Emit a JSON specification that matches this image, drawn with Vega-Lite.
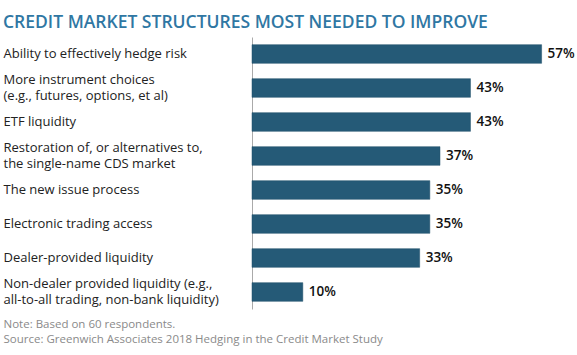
{
  "$schema": "https://vega.github.io/schema/vega-lite/v6.json",
  "width": 315,
  "height": 272,
  "autosize": "none",
  "padding": {"left": 252, "top": 37, "right": 10, "bottom": 46},
  "background": "white",
  "title": {
    "text": "CREDIT MARKET STRUCTURES MOST NEEDED TO IMPROVE",
    "anchor": "start",
    "frame": "group",
    "dx": -249,
    "dy": -6,
    "font": "Open Sans",
    "fontSize": 17.5,
    "fontWeight": 600,
    "color": "#2f77a3",
    "offset": 0
  },
  "data": {
    "values": [
      {"label": "Ability to effectively hedge risk", "value": 0.57, "order": 1},
      {"label": "More instrument choices|(e.g., futures, options, et al)", "value": 0.43, "order": 2},
      {"label": "ETF liquidity", "value": 0.43, "order": 3},
      {"label": "Restoration of, or alternatives to,|the single-name CDS market", "value": 0.37, "order": 4},
      {"label": "The new issue process", "value": 0.35, "order": 5},
      {"label": "Electronic trading access", "value": 0.35, "order": 6},
      {"label": "Dealer-provided liquidity", "value": 0.33, "order": 7},
      {"label": "Non-dealer provided liquidity (e.g.,|all-to-all trading, non-bank liquidity)", "value": 0.10, "order": 8}
    ]
  },
  "encoding": {
    "y": {
      "field": "label",
      "type": "nominal",
      "sort": {"field": "order"},
      "scale": {"paddingInner": 0.45, "paddingOuter": 0.225},
      "axis": {
        "title": null,
        "ticks": false,
        "labelAlign": "left",
        "labelPadding": 249,
        "labelExpr": "split(datum.label, '|')",
        "labelOffset": {"condition": {"test": "indexof(datum.value, '|') >= 0", "value": -8}, "value": 0},
        "labelFont": "Open Sans",
        "labelFontSize": 13,
        "labelColor": "#222222",
        "labelLineHeight": 16,
        "labelLimit": 300,
        "domainColor": "#aaaaaa",
        "domainWidth": 1
      }
    },
    "x": {
      "field": "value",
      "type": "quantitative",
      "scale": {"domain": [0, 0.62]},
      "axis": {
        "grid": false,
        "domain": false,
        "ticks": false,
        "labels": false,
        "title": ["Note: Based on 60 respondents.", "Source: Greenwich Associates 2018 Hedging in the Credit Market Study"],
        "titleAnchor": "start",
        "titleAlign": "left",
        "titleX": -249,
        "titleY": 15,
        "titleBaseline": "middle",
        "titleFont": "Open Sans",
        "titleFontSize": 11.5,
        "titleFontWeight": "normal",
        "titleColor": "#8a8a8a",
        "titleLineHeight": 15
      }
    }
  },
  "layer": [
    {
      "mark": {"type": "bar", "color": "#255a77", "stroke": "#1e4e69", "strokeWidth": 0.5}
    },
    {
      "mark": {"type": "text", "align": "left", "dx": 6, "font": "Open Sans", "fontSize": 13.5, "fontWeight": 600, "color": "#111111"},
      "encoding": {"text": {"field": "value", "type": "quantitative", "format": ".0%"}}
    }
  ],
  "config": {"view": {"stroke": null}}
}
